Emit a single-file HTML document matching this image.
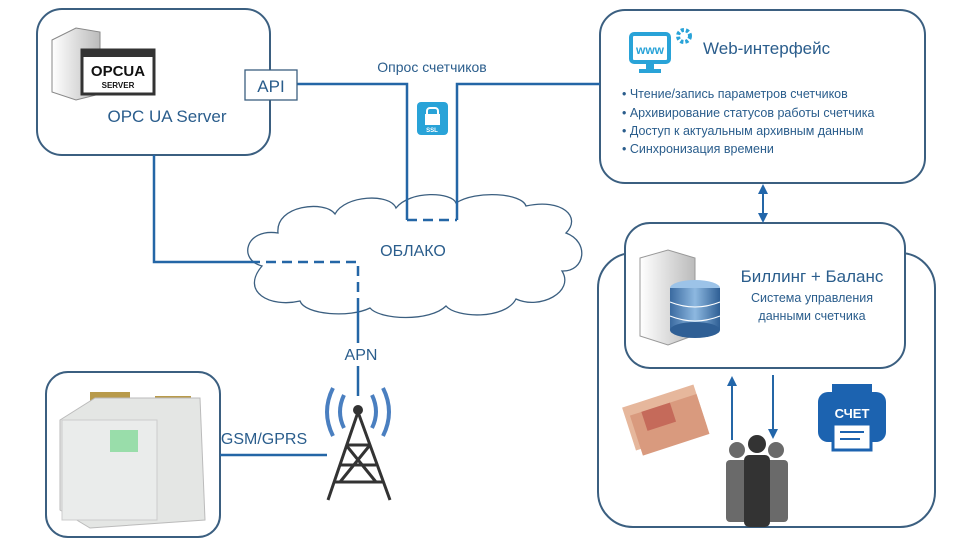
<!DOCTYPE html>
<html><head><meta charset="utf-8"><style>
html,body{margin:0;padding:0;background:#fff;width:960px;height:550px;overflow:hidden}
svg text{font-family:"Liberation Sans","DejaVu Sans",sans-serif;fill:#2a5d8c}
</style></head><body>
<svg width="960" height="550" viewBox="0 0 960 550" xmlns="http://www.w3.org/2000/svg">
<defs>
<marker id="ah" markerUnits="userSpaceOnUse" markerWidth="10" markerHeight="10" refX="8" refY="5" orient="auto-start-reverse"><path d="M0,0 L10,5 L0,10 z" fill="#2266aa"/></marker>
<linearGradient id="db" x1="0" x2="1"><stop offset="0" stop-color="#3a6aa0"/><stop offset=".5" stop-color="#8db8e0"/><stop offset="1" stop-color="#2f5f95"/></linearGradient>
<linearGradient id="srv" x1="0" x2="1"><stop offset="0" stop-color="#fff"/><stop offset="1" stop-color="#bbb"/></linearGradient>
</defs>
<g fill="none" stroke="#3b5f80" stroke-width="2">
<rect x="37" y="9" width="233" height="146" rx="25"/>
<rect x="600" y="10" width="325" height="173" rx="25"/>
<rect x="598" y="253" width="337" height="274" rx="35"/>
<rect x="46" y="372" width="174" height="165" rx="22"/>
</g>
<rect x="625" y="223" width="280" height="145" rx="25" fill="#fff" stroke="#3b5f80" stroke-width="2"/>
<!-- cloud -->
<path d="M262,266 C238,260 245,228 278,233 C275,205 325,200 335,214 C345,195 390,193 396,208 C410,190 452,192 456,203 C476,190 522,193 526,206 C562,198 582,217 566,233 C590,242 585,272 562,271 C575,292 540,310 516,299 C505,320 456,318 446,306 C430,322 380,320 370,308 C350,318 305,315 300,301 C270,308 240,292 262,266 Z" fill="#fff" stroke="#3b5f80" stroke-width="1.3"/>
<!-- connectors -->
<g fill="none" stroke="#2466a6" stroke-width="2.5">
<path d="M297,84 H407 V220 "/>
<path d="M457,220 V84 H600"/>
<path d="M407,220 H457" stroke-dasharray="10,6"/>
<path d="M154,155 V262 H250"/>
<path d="M250,262 H358 V300" stroke-dasharray="10,6"/>
<path d="M358,300 V343"/>
<path d="M358,366 V396"/>
<path d="M220,455 H327"/>
<path d="M763,186 V221" stroke-width="2" marker-start="url(#ah)" marker-end="url(#ah)"/>
<path d="M732,440 V378" stroke-width="2" marker-end="url(#ah)"/>
<path d="M773,375 V437" stroke-width="2" marker-end="url(#ah)"/>
</g>
<rect x="245" y="70" width="52" height="30" fill="#fff" stroke="#3b5f80" stroke-width="1.3"/>
<text x="271" y="92" font-size="17" text-anchor="middle">API</text>
<text x="432" y="72" font-size="14" text-anchor="middle">Опрос счетчиков</text>
<rect x="417" y="102" width="31" height="33" rx="4" fill="#29a3d8"/>
<rect x="427" y="108" width="11" height="12" rx="3" fill="none" stroke="#fff" stroke-width="2"/>
<rect x="425" y="114" width="15" height="11" fill="#fff"/>
<text x="432" y="132" font-size="6" style="fill:#fff" text-anchor="middle" font-weight="bold">SSL</text>
<text x="167" y="122" font-size="17" text-anchor="middle">OPC UA Server</text>
<!-- opc server icon -->
<path d="M52,40 L76,28 L100,32 L100,94 L76,100 L52,92 Z" fill="url(#srv)" stroke="#888"/>
<rect x="82" y="50" width="72" height="44" fill="#fff" stroke="#333" stroke-width="3"/>
<rect x="82" y="50" width="72" height="7" fill="#333"/>
<text x="118" y="76" font-size="15" font-weight="bold" style="fill:#111" text-anchor="middle">OPCUA</text>
<text x="118" y="88" font-size="8" font-weight="bold" style="fill:#111" text-anchor="middle">SERVER</text>
<text x="413" y="256" font-size="16" text-anchor="middle">ОБЛАКО</text>
<text x="361" y="360" font-size="16" text-anchor="middle">APN</text>
<text x="264" y="444" font-size="16" text-anchor="middle">GSM/GPRS</text>
<!-- web -->
<rect x="631" y="34" width="38" height="28" rx="3" fill="none" stroke="#29a3d8" stroke-width="4"/>
<text x="650" y="54" font-size="12" font-weight="bold" style="fill:#29a3d8" text-anchor="middle">www</text>
<rect x="646" y="62" width="8" height="7" fill="#29a3d8"/><rect x="639" y="69" width="22" height="4" fill="#29a3d8"/>
<circle cx="684" cy="36" r="6" fill="none" stroke="#29a3d8" stroke-width="4" stroke-dasharray="3,2"/>
<text x="703" y="54" font-size="17">Web-интерфейс</text>
<g font-size="12.5">
<text x="622" y="98">•  Чтение/запись параметров счетчиков</text>
<text x="622" y="117">•  Архивирование статусов работы счетчика</text>
<text x="622" y="135">•  Доступ к актуальным архивным данным</text>
<text x="622" y="153">•  Синхронизация времени</text>
</g>
<!-- billing -->
<path d="M640,258 L668,250 L695,258 L695,335 L668,345 L640,336 Z" fill="url(#srv)" stroke="#999"/>
<ellipse cx="695" cy="288" rx="25" ry="8" fill="#9cc3e8"/>
<rect x="670" y="288" width="50" height="42" fill="url(#db)"/>
<ellipse cx="695" cy="330" rx="25" ry="8" fill="#2f5f95"/>
<path d="M670,302 Q695,312 720,302 M670,316 Q695,326 720,316" stroke="#fff" fill="none"/>
<text x="812" y="282" font-size="17" text-anchor="middle">Биллинг + Баланс</text>
<text x="812" y="302" font-size="12.5" text-anchor="middle">Система управления</text>
<text x="812" y="320" font-size="12.5" text-anchor="middle">данными счетчика</text>
<!-- money -->
<g transform="rotate(-18 665 420)"><rect x="628" y="395" width="75" height="45" fill="#e6b79c"/><rect x="633" y="405" width="70" height="42" fill="#d99a7e"/><rect x="645" y="405" width="30" height="20" fill="#c56a5a"/></g>
<!-- printer -->
<rect x="818" y="392" width="68" height="50" rx="10" fill="#1c63b0"/>
<rect x="832" y="384" width="40" height="12" fill="#1c63b0"/>
<text x="852" y="418" font-size="13" font-weight="bold" style="fill:#fff" text-anchor="middle">СЧЕТ</text>
<rect x="833" y="424" width="38" height="26" fill="#fff" stroke="#1c63b0" stroke-width="3"/>
<path d="M840,432 H864 M840,439 H860" stroke="#1c63b0" stroke-width="2"/>
<!-- people -->
<g fill="#6a6a6a"><circle cx="737" cy="450" r="8"/><rect x="726" y="460" width="22" height="62" rx="4"/><circle cx="776" cy="450" r="8"/><rect x="766" y="460" width="22" height="62" rx="4"/></g>
<g fill="#333"><circle cx="757" cy="444" r="9"/><rect x="744" y="455" width="26" height="72" rx="5"/></g>
<!-- meter -->
<rect x="90" y="392" width="40" height="12" fill="#b89a4a"/><rect x="155" y="396" width="36" height="12" fill="#b89a4a"/>
<path d="M60,420 L95,398 L200,398 L205,520 L90,528 L60,510 Z" fill="#e4e6e4" stroke="#bbb"/>
<rect x="62" y="420" width="95" height="100" fill="#eaeceb" stroke="#ccc"/>
<rect x="110" y="430" width="28" height="22" fill="#9da"/>
<!-- tower -->
<g fill="none" stroke="#4a7fc0" stroke-width="4">
<path d="M344,395 Q336,412 344,428"/><path d="M333,388 Q321,412 333,436"/>
<path d="M372,395 Q380,412 372,428"/><path d="M383,388 Q395,412 383,436"/>
</g>
<circle cx="358" cy="410" r="5" fill="#333"/>
<g stroke="#333" stroke-width="3" fill="none"><path d="M358,412 L328,500 M358,412 L390,500 M340,465 H376 M346,445 H370 M334,482 H383 M346,445 L376,482 M370,445 L340,482"/></g>
</svg>
</body></html>
